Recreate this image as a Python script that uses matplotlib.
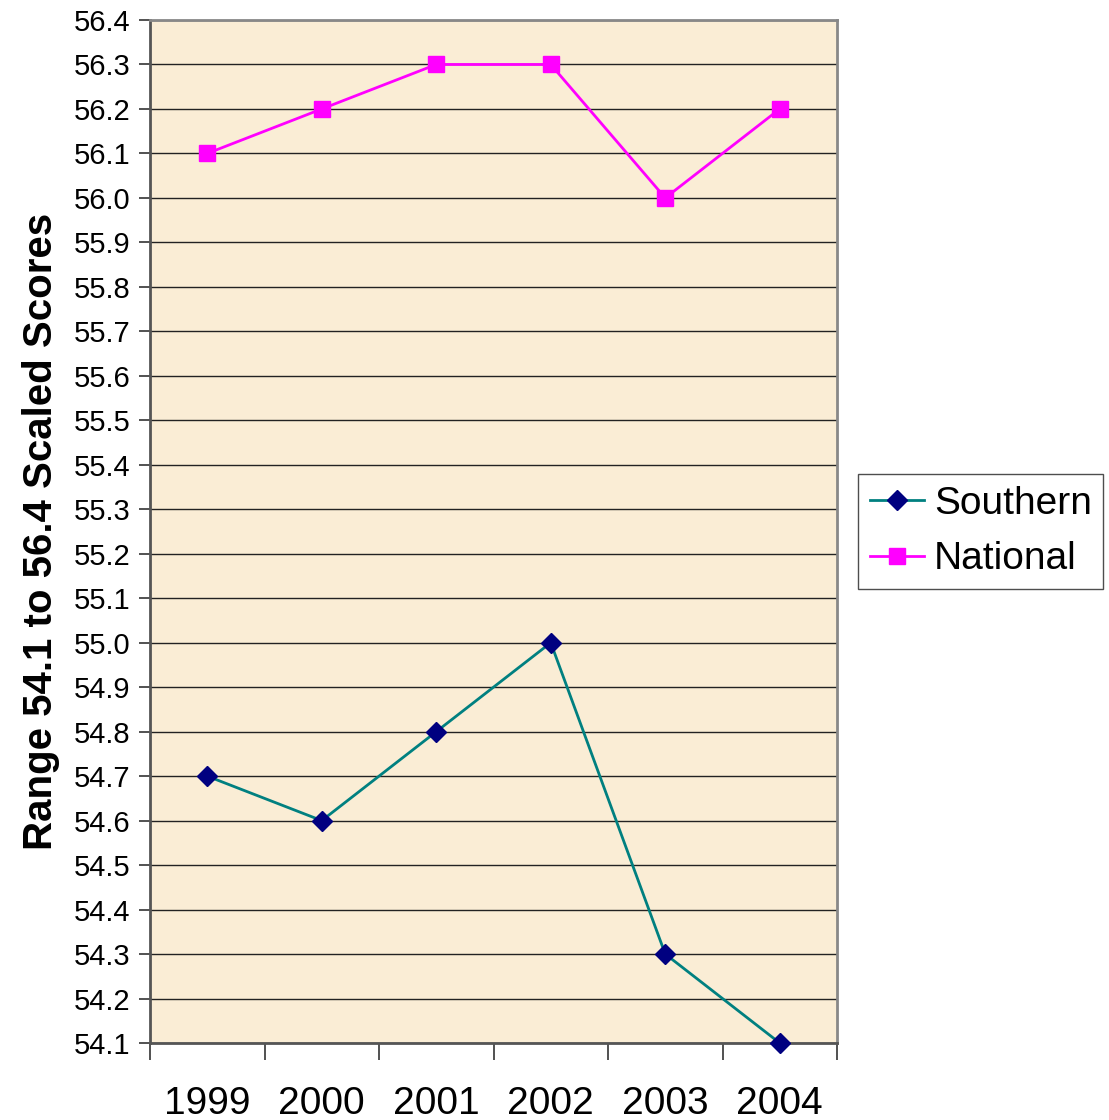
import numpy as np
import matplotlib.pyplot as plt
from matplotlib.ticker import MultipleLocator, FixedLocator

plt.rcParams['font.family'] = ['Liberation Sans', 'DejaVu Sans']

# Datos
anios = ['1999', '2000', '2001', '2002', '2003', '2004']
southern = [54.7, 54.6, 54.8, 55.0, 54.3, 54.1]
national = [56.1, 56.2, 56.3, 56.3, 56.0, 56.2]

x = np.arange(len(anios))

fig = plt.figure(figsize=(11.09, 11.20), dpi=100)
ax = fig.add_axes([150 / 1109, 1 - 1043 / 1120, 687 / 1109, 1023 / 1120])
ax.set_facecolor('#FAEDD5')

ax.plot(x, southern, color='#008080', lw=2.0, marker='D', markersize=10,
        markerfacecolor='#000080', markeredgecolor='#000080', label='Southern',
        clip_on=False, zorder=3)
ax.plot(x, national, color='#FF00FF', lw=2.0, marker='s', markersize=12,
        markerfacecolor='#FF00FF', markeredgecolor='#FF00FF', label='National',
        clip_on=False, zorder=3)

# eje y
ax.set_ylim(54.1, 56.4)
ax.yaxis.set_major_locator(MultipleLocator(0.1))
ax.yaxis.set_major_formatter(plt.FuncFormatter(lambda v, p: f'{v:.1f}'))
ax.grid(axis='y', color='#222222', lw=1.0)
ax.set_axisbelow(True)
ax.tick_params(axis='y', direction='out', length=8, width=1.2, color='#333333',
               labelsize=21, pad=6)

# eje x: marcas en los limites de categoria, etiquetas al centro
ax.set_xlim(-0.5, len(anios) - 0.5)
ax.set_xticks(x)
ax.set_xticklabels(anios)
ax.xaxis.set_minor_locator(FixedLocator(np.arange(-0.5, len(anios), 1.0)))
ax.tick_params(axis='x', which='major', length=0, labelsize=28, pad=31)
ax.tick_params(axis='x', which='minor', direction='out', length=12, width=1.2,
               color='#333333')

ax.set_ylabel('Range 54.1 to 56.4 Scaled Scores', fontsize=29, fontweight='bold',
              labelpad=10)

for lado in ['top', 'right']:
    ax.spines[lado].set_color('#888888')
    ax.spines[lado].set_linewidth(2.0)
for lado in ['left', 'bottom']:
    ax.spines[lado].set_color('#555555')
    ax.spines[lado].set_linewidth(2.0)

leg = fig.legend(loc='upper left', bbox_to_anchor=(858 / 1109, 1 - 474 / 1120),
                 fontsize=28, frameon=True, fancybox=False, edgecolor='#222222',
                 handlelength=1.4, handletextpad=0.25, borderpad=0.3,
                 borderaxespad=0, labelspacing=0.5)
leg.get_frame().set_linewidth(1.0)

fig.savefig('out.png', dpi=100)
